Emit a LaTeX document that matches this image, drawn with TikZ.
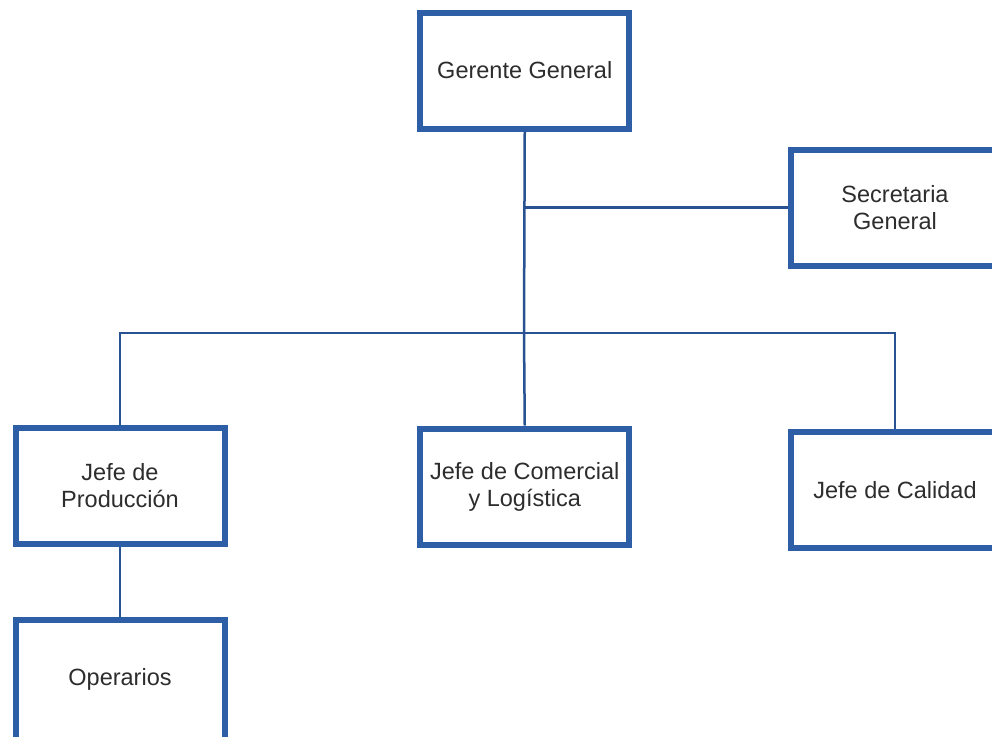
\documentclass[tikz,border=0pt]{standalone}
\usepackage{fontspec}
\setmainfont{Liberation Sans}
\definecolor{boxblue}{RGB}{46,94,166}
\definecolor{lineblue}{RGB}{40,82,146}
\definecolor{txt}{RGB}{45,45,45}
\begin{document}
\begin{tikzpicture}[x=1pt,y=-1pt,
  orgbox/.style={draw=boxblue, line width=6pt, fill=white, minimum width=209pt, minimum height=116pt,
    inner sep=0pt, align=center, text=txt, font=\fontsize{23.5}{27}\selectfont},
  conn/.style={draw=lineblue, line width=2.5pt}]
\useasboundingbox (0,0) rectangle (992,736);
\node[orgbox] (gg) at (524.75,70.5) {Gerente General};
\node[orgbox] (sg) at (895,207.5) {Secretaria\\General};
\node[orgbox] (jp) at (120,486) {Jefe de\\Producción};
\node[orgbox] (jc) at (524.75,486.5) {Jefe de Comercial\\y Logística};
\node[orgbox] (jq) at (895,490) {Jefe de Calidad};
\node[orgbox, minimum height=126pt] (op) at (120,683) {\raisebox{13pt}{Operarios}};
\coordinate (j) at (524,333);
\coordinate (s) at (524,207.5);
\draw[conn] (gg.south) -- (j);
\draw[conn] (s) -- (sg.west);
\draw[conn] (j) -- (jc.north);
\draw[conn] (jp.north) |- (j) -| (jq.north);
\draw[conn] (jp.south) -- (op.north);
\end{tikzpicture}
\end{document}
